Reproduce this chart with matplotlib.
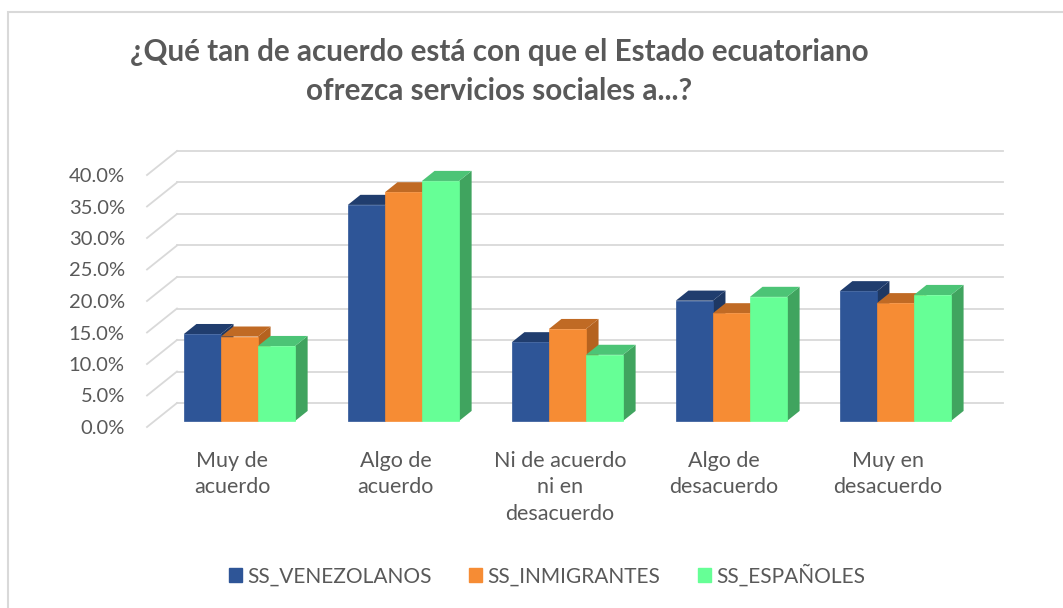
import numpy as np
import matplotlib.pyplot as plt
from matplotlib.patches import Polygon, Patch, Rectangle

plt.rcParams['font.family'] = ['Lato', 'DejaVu Sans']

# datos (porcentaje)
categorias = ["Muy de\nacuerdo", "Algo de\nacuerdo", "Ni de acuerdo\nni en\ndesacuerdo",
              "Algo de\ndesacuerdo", "Muy en\ndesacuerdo"]
venezolanos = [13.8, 34.3, 12.5, 19.1, 20.6]
inmigrantes = [13.4, 36.3, 14.6, 17.1, 18.7]
espanoles   = [11.9, 38.1, 10.5, 19.7, 20.0]
series      = ["SS_VENEZOLANOS", "SS_INMIGRANTES", "SS_ESPAÑOLES"]
yticks      = [0, 5, 10, 15, 20, 25, 30, 35, 40]

# colores: frente, tapa, lado
col_front = ['#2E5597', '#F68C34', '#66FF96']
col_top   = ['#203D6E', '#C06A24', '#4CC476']
col_side  = ['#1E3863', '#B5621F', '#40A45F']

W, H = 1063, 608
fig = plt.figure(figsize=(W/100, H/100), dpi=100)
ax = fig.add_axes([147/W, 1-427/H, 826/W, 252/H])
ax.set_xlim(-0.518, 4.519)
ax.set_ylim(0, 40)

# profundidad "3D" en unidades de datos
DX, DY = 30/164, 24/6.3
d0, d1 = 0.25, 0.67
bw = 0.226

grid = '#d9d9d9'
xl, xr = ax.get_xlim()
for v in yticks:
    ax.plot([xl + DX, xr + DX], [v + DY, v + DY], color=grid, lw=1.3, clip_on=False, zorder=1)
    ax.plot([xl, xl + DX], [v, v + DY], color=grid, lw=1.3, clip_on=False, zorder=1)

vals = [venezolanos, inmigrantes, espanoles]
for i in range(len(categorias)):
    for j in range(3):
        x0 = i + d0*DX + (j - 1.5)*bw
        y0 = d0*DY
        h = vals[j][i]
        x1, y1 = x0 + bw, y0 + h
        ddx, ddy = (d1 - d0)*DX, (d1 - d0)*DY
        side = Polygon([(x1, y0), (x1 + ddx, y0 + ddy), (x1 + ddx, y1 + ddy), (x1, y1)],
                       closed=True, fc=col_side[j], ec='none', zorder=2, clip_on=False)
        top = Polygon([(x0, y1), (x0 + ddx, y1 + ddy), (x1 + ddx, y1 + ddy), (x1, y1)],
                      closed=True, fc=col_top[j], ec='none', zorder=2, clip_on=False)
        ax.add_patch(side)
        ax.add_patch(top)
        ax.bar(x0, h, bottom=y0, width=bw, align='edge', color=col_front[j],
               edgecolor=col_front[j], lw=0.5, zorder=2, clip_on=False)

for s in ax.spines.values():
    s.set_visible(False)
ax.set_yticks(yticks)
ax.set_yticklabels(['{:.1f}%'.format(v) for v in yticks])
ax.set_xticks(range(len(categorias)))
ax.set_xticklabels(categorias, linespacing=1.42)
ax.tick_params(axis='y', length=0, pad=16, labelsize=14.5, labelcolor='#595959')
ax.tick_params(axis='x', length=0, pad=17, labelsize=15.5, labelcolor='#595959')

fig.text(499/W, 1-52/H, "¿Qué tan de acuerdo está con que el Estado ecuatoriano",
         ha='center', va='center', fontsize=21.3, fontweight='bold', color='#595959')
fig.text(499/W, 1-91/H, "ofrezca servicios sociales a...?",
         ha='center', va='center', fontsize=21.3, fontweight='bold', color='#595959')

handles = [Patch(facecolor=c, edgecolor=c) for c in col_front]
fig.legend(handles, series, loc='center', bbox_to_anchor=(547/W, 1-575/H), ncol=3,
           frameon=False, handlelength=0.62, handleheight=0.62, handletextpad=0.25,
           columnspacing=1.8, fontsize=15, labelcolor='#595959')

# borde del area del grafico
fig.add_artist(Rectangle((8/W, -0.1), 1.2, 1.1 - 12/H, transform=fig.transFigure,
                         fill=False, ec='#d9d9d9', lw=1.5))

fig.savefig('out.png', dpi=100)
